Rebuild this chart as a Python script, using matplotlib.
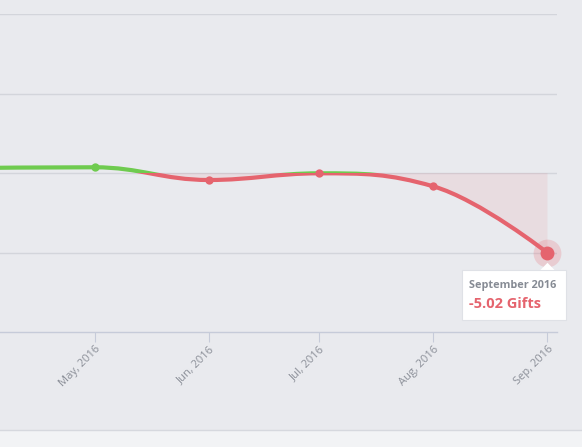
import numpy as np
import matplotlib
matplotlib.use("Agg")
import matplotlib.pyplot as plt
import matplotlib.dates as mdates
import matplotlib.transforms as mtransforms
from matplotlib.path import Path
from matplotlib.patches import PathPatch, Rectangle, Polygon
import datetime as dt

# data
months = ["2016-04-01", "2016-05-01", "2016-06-01", "2016-07-01", "2016-08-01", "2016-09-01"]
gifts = [0.32, 0.36, -0.44, -0.02, -0.84, -5.02]
tick_labels = ["May, 2016", "Jun, 2016", "Jul, 2016", "Aug, 2016", "Sep, 2016"]

BG = "#e9eaee"
GREEN = "#6fcb4f"
RED = "#e5646e"
GRID = "#d3d5db"
TXT = "#8b8f98"

plt.rcParams["font.family"] = ["Open Sans", "DejaVu Sans"]


def spline_path(xs, ys, smoothing=1.5):
    # highcharts style spline -> bezier control points
    n = len(xs)
    denom = smoothing + 1
    lc = [(xs[i], ys[i]) for i in range(n)]
    rc = [(xs[i], ys[i]) for i in range(n)]
    for i in range(1, n - 1):
        x, y = xs[i], ys[i]
        lx, ly = xs[i - 1], ys[i - 1]
        nx, ny = xs[i + 1], ys[i + 1]
        lcx = (smoothing * x + lx) / denom
        lcy = (smoothing * y + ly) / denom
        rcx = (smoothing * x + nx) / denom
        rcy = (smoothing * y + ny) / denom
        corr = 0
        if rcx != lcx:
            corr = (rcy - lcy) * (rcx - x) / (rcx - lcx) + y - rcy
        lcy += corr
        rcy += corr
        if lcy > ly and lcy > y:
            lcy = max(ly, y)
            rcy = 2 * y - lcy
        elif lcy < ly and lcy < y:
            lcy = min(ly, y)
            rcy = 2 * y - lcy
        if rcy > ny and rcy > y:
            rcy = max(ny, y)
            lcy = 2 * y - rcy
        elif rcy < ny and rcy < y:
            rcy = min(ny, y)
            lcy = 2 * y - rcy
        lc[i] = (lcx, lcy)
        rc[i] = (rcx, rcy)
    verts = [(xs[0], ys[0])]
    codes = [Path.MOVETO]
    for i in range(1, n):
        verts += [rc[i - 1], lc[i], (xs[i], ys[i])]
        codes += [Path.CURVE4] * 3
    return verts, codes


x = mdates.date2num([dt.datetime.strptime(m, "%Y-%m-%d") for m in months])
y = np.array(gifts)

fig = plt.figure(figsize=(5.82, 4.47), dpi=100)
fig.patch.set_facecolor(BG)
# lighter strip at the bottom
fig.patches.append(Rectangle((0, 0), 1, 17 / 447, transform=fig.transFigure,
                             facecolor="#f2f3f5", edgecolor="none", zorder=0))
fig.lines.append(plt.Line2D([0, 1], [17 / 447, 17 / 447], transform=fig.transFigure,
                            color="#d6d8de", lw=1))

ax = fig.add_axes([0, 115 / 447, 557 / 582, 318 / 447])
ax.set_facecolor(BG)
x0 = mdates.date2num(dt.datetime(2016, 4, 5, 8))
x1 = mdates.date2num(dt.datetime(2016, 9, 3, 14))
ax.set_xlim(x0, x1)
ax.set_ylim(-10, 10)

for s in ["top", "right", "left"]:
    ax.spines[s].set_visible(False)
ax.spines["bottom"].set_color("#c6cbd9")
ax.spines["bottom"].set_linewidth(1)

ax.set_yticks([-5, 0, 5, 10])
ax.yaxis.grid(True, color=GRID, lw=1)
ax.tick_params(axis="y", left=False, labelleft=False)

ax.set_xticks(x[1:])
ax.set_xticklabels(tick_labels, rotation=45, ha="right", va="top",
                   rotation_mode="anchor", fontsize=8, color=TXT)
ax.tick_params(axis="x", length=7, color="#c6cbd9", pad=1.5)

verts, codes = spline_path(list(x), list(y))
curve = Path(verts, codes)

# light fill below the zero line
fill_verts = verts + [(x[-1], 0), (x[0], 0), (x[0], y[0])]
fill_codes = codes + [Path.LINETO, Path.LINETO, Path.CLOSEPOLY]
fill = PathPatch(Path(fill_verts, fill_codes), facecolor=RED, alpha=0.1,
                 edgecolor="none", zorder=2)
ax.add_patch(fill)
neg_clip = Rectangle((x0 - 60, -20), 400, 20, transform=ax.transData)
pos_clip = Rectangle((x0 - 60, 0), 400, 20, transform=ax.transData)
fill.set_clip_path(neg_clip)

green_line = PathPatch(curve, facecolor="none", edgecolor=GREEN, lw=3, zorder=3,
                       capstyle="round", joinstyle="round")
red_line = PathPatch(curve, facecolor="none", edgecolor=RED, lw=3, zorder=3,
                     capstyle="round", joinstyle="round")
ax.add_patch(green_line)
ax.add_patch(red_line)
green_line.set_clip_path(pos_clip)
red_line.set_clip_path(neg_clip)

for xi, yi in zip(x[:-1], y[:-1]):
    ax.plot(xi, yi, "o", ms=6, color=GREEN if yi >= 0 else RED, zorder=4, mec="none")

# hovered last point
ax.plot(x[-1], y[-1], "o", ms=20, color=RED, alpha=0.22, mec="none", zorder=4, clip_on=False)
ax.plot(x[-1], y[-1], "o", ms=10, color=RED, mec="none", zorder=5, clip_on=False)

# tooltip, positioned in inches relative to the point
tt = fig.dpi_scale_trans + mtransforms.ScaledTranslation(x[-1], y[-1], ax.transData)
shadow = Rectangle((-0.845, -0.68), 1.04, 0.50, transform=tt, facecolor="#000000",
                   alpha=0.05, edgecolor="none", zorder=6, clip_on=False)
ax.add_patch(shadow)
box = Rectangle((-0.855, -0.67), 1.04, 0.50, transform=tt, facecolor="white",
                edgecolor="#dfe1e6", lw=0.8, zorder=7, clip_on=False)
ax.add_patch(box)
tri = Polygon([(-0.07, -0.171), (0.0, -0.10), (0.07, -0.171)], closed=True, transform=tt,
              facecolor="white", edgecolor="none", zorder=8, clip_on=False)
ax.add_patch(tri)
ax.text(-0.78, -0.325, "September 2016", transform=tt, fontsize=7.8, fontweight="bold",
        color="#868b94", va="center", ha="left", zorder=9)
ax.text(-0.785, -0.51, "-5.02 Gifts", transform=tt, fontsize=10.5, fontweight="bold",
        color=RED, va="center", ha="left", zorder=9)

fig.savefig("out.png", dpi=100, facecolor=BG)
